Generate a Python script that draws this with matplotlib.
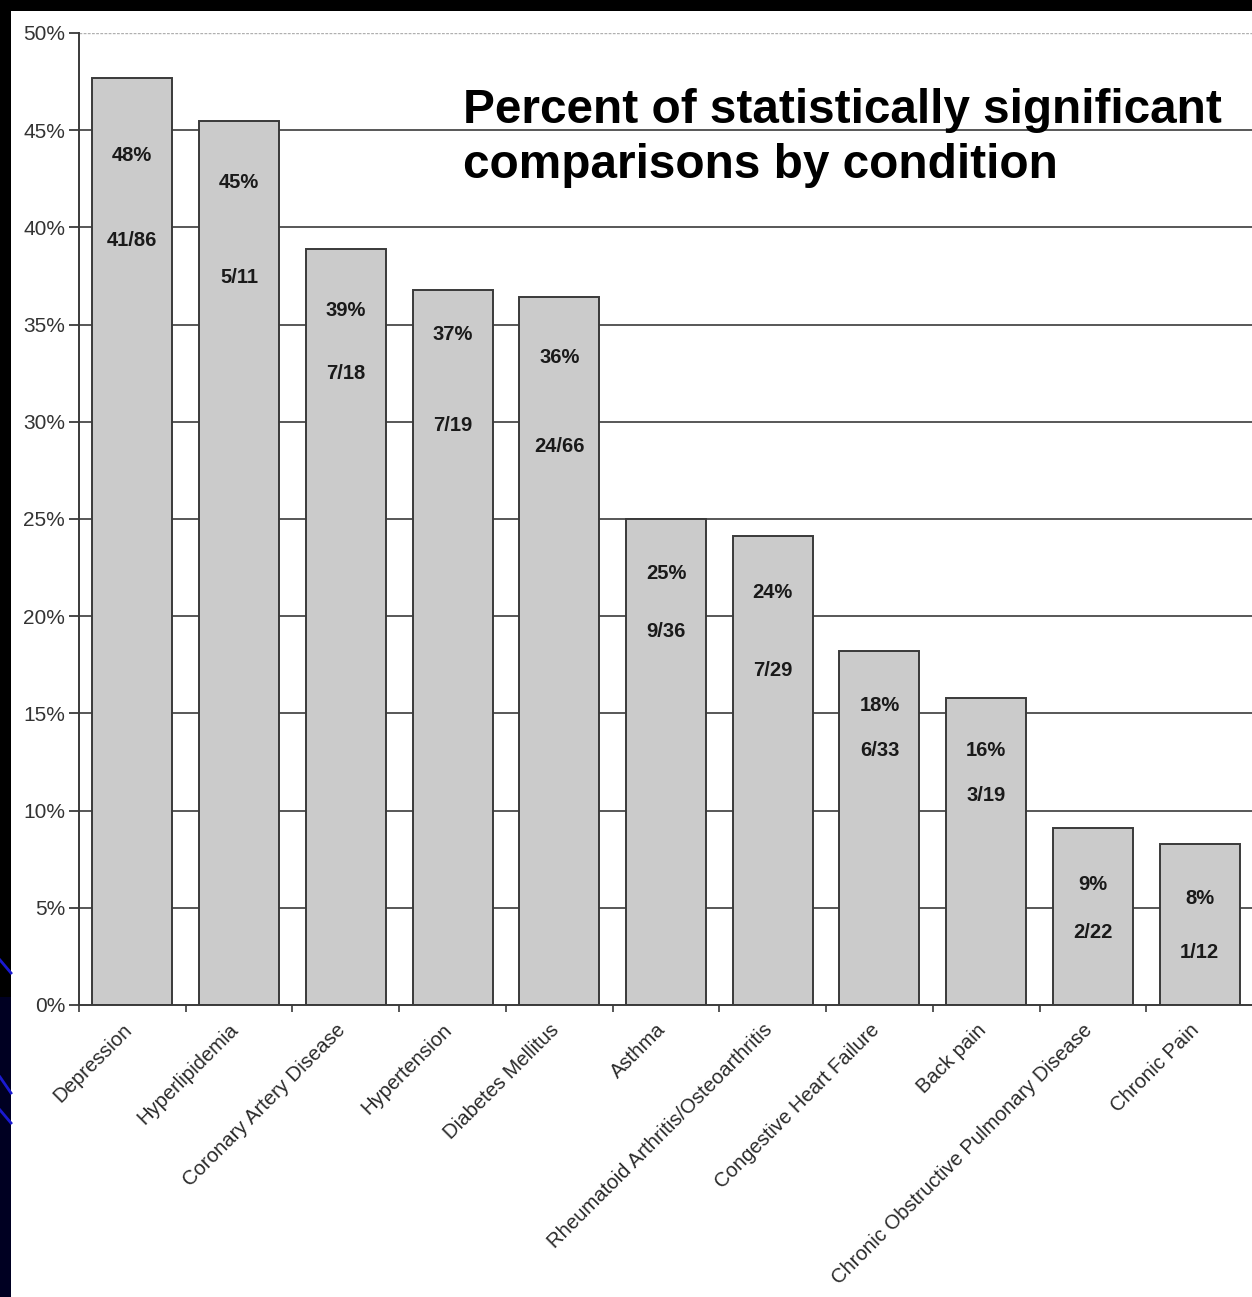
import matplotlib
matplotlib.use("Agg")
import matplotlib.pyplot as plt
from matplotlib.patches import Rectangle
from matplotlib.lines import Line2D
from matplotlib.transforms import ScaledTranslation
import numpy as np

# ---------------- data ----------------
categories = ["Depression", "Hyperlipidemia", "Coronary Artery Disease", "Hypertension",
              "Diabetes Mellitus", "Asthma", "Rheumatoid Arthritis/Osteoarthritis",
              "Congestive Heart Failure", "Back pain", "Chronic Obstructive Pulmonary Disease",
              "Chronic Pain"]
percent_values = [47.7, 45.45, 38.9, 36.8, 36.4, 25.0, 24.1, 18.2, 15.8, 9.1, 8.3]
pct_labels = ["48%", "45%", "39%", "37%", "36%", "25%", "24%", "18%", "16%", "9%", "8%"]
frac_labels = ["41/86", "5/11", "7/18", "7/19", "24/66", "9/36", "7/29", "6/33", "3/19", "2/22", "1/12"]
yticks = [0, 5, 10, 15, 20, 25, 30, 35, 40, 45, 50]
ytick_labels = ["0%", "5%", "10%", "15%", "20%", "25%", "30%", "35%", "40%", "45%", "50%"]
title_lines = ["Percent of statistically significant", "comparisons by condition"]

# ---------------- layout (label heights inside bars, in axis units) ----------------
pct_label_y = [43.7, 42.3, 35.75, 34.5, 33.3, 22.2, 21.2, 15.4, 13.1, 6.2, 5.5]
frac_label_y = [39.35, 37.4, 32.5, 29.8, 28.75, 19.2, 17.2, 13.1, 10.8, 3.75, 2.7]

W, H = 1252, 1297
fig = plt.figure(figsize=(W / 100, H / 100), dpi=100)
fig.patch.set_facecolor("white")
font = "Liberation Sans"

ax = fig.add_axes([79 / W, (H - 1005) / H, (1253 - 79) / W, 972 / H])
ax.set_facecolor("white")
x = np.arange(len(categories))

# gridlines
for yv in yticks[1:-1]:
    ax.axhline(yv, color="#4a4a4a", lw=1.3, zorder=1)
ax.axhline(50, color="#b0b0b0", lw=1.0, ls=(0, (2, 1)), zorder=1)

ax.bar(x, percent_values, width=0.75, color="#cbcbcb", edgecolor="#3a3a3a",
       linewidth=1.4, zorder=2)

for i in range(len(categories)):
    ax.text(x[i], pct_label_y[i], pct_labels[i], ha="center", va="center",
            fontsize=14.5, fontweight="bold", family=font, color="#1a1a1a", zorder=3)
    ax.text(x[i], frac_label_y[i], frac_labels[i], ha="center", va="center",
            fontsize=14.5, fontweight="bold", family=font, color="#1a1a1a", zorder=3)

ax.set_xlim(-0.5, len(categories) - 0.5)
ax.set_ylim(0, 50)

for s in ["top", "right"]:
    ax.spines[s].set_visible(False)
for s in ["left", "bottom"]:
    ax.spines[s].set_color("#3a3a3a")
    ax.spines[s].set_linewidth(1.4)
    ax.spines[s].set_zorder(4)

ax.set_yticks(yticks)
ax.set_yticklabels(ytick_labels, family=font, fontsize=15, color="#333333")
ax.tick_params(axis="y", length=7, width=1.3, color="#3a3a3a", pad=3)

ax.set_xticks(x)
ax.set_xticklabels(categories, rotation=45, ha="right", va="top", rotation_mode="anchor",
                   family=font, fontsize=14.6, color="#2a2a2a")
ax.tick_params(axis="x", which="major", length=0, pad=11)
shift = ScaledTranslation(-10 / 100, 0, fig.dpi_scale_trans)
for lab in ax.get_xticklabels():
    lab.set_transform(lab.get_transform() + shift)
ax.set_xticks(np.arange(len(categories) + 1) - 0.5, minor=True)
ax.tick_params(axis="x", which="minor", length=5, width=1.2, color="#3a3a3a")

# title
fig.text(463 / W, 1 - 123 / H, title_lines[0], ha="left", va="baseline",
         fontsize=34.4, fontweight="bold", family=font, color="black")
fig.text(463 / W, 1 - 178 / H, title_lines[1], ha="left", va="baseline",
         fontsize=34.4, fontweight="bold", family=font, color="black")

# slide border decorations
fig.patches.append(Rectangle((0, 1 - 11 / H), 1, 11 / H, transform=fig.transFigure,
                             facecolor="black", edgecolor="none", zorder=10))
fig.patches.append(Rectangle((0, 0), 11 / W, 1, transform=fig.transFigure,
                             facecolor="black", edgecolor="none", zorder=10))
fig.patches.append(Rectangle((0, 0), 11 / W, 300 / H, transform=fig.transFigure,
                             facecolor="#000022", edgecolor="none", zorder=10))
for (y0, y1) in [(960, 973), (1077, 1093), (1110, 1123)]:
    fig.lines.append(Line2D([0, 11 / W], [1 - y0 / H, 1 - y1 / H], transform=fig.transFigure,
                            color="#1a1ad0", lw=2, zorder=11))

fig.savefig("out.png", dpi=100, facecolor=fig.get_facecolor())
